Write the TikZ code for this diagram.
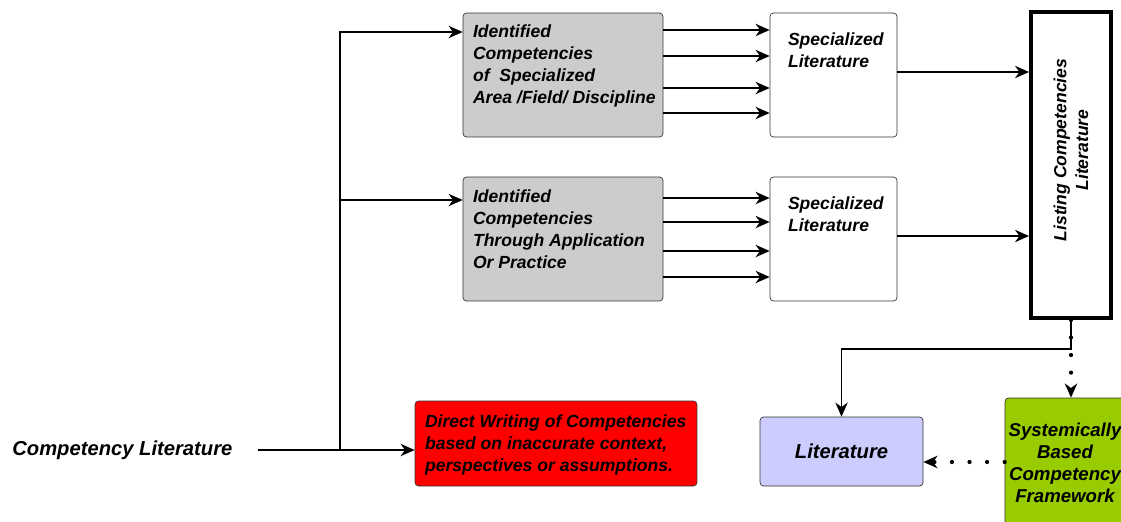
\documentclass[tikz,border=0pt]{standalone}
\usepackage{fontspec}
\setmainfont{Liberation Sans}
\usetikzlibrary{arrows.meta,shapes}
\definecolor{boxgray}{HTML}{CCCCCC}
\definecolor{boxred}{HTML}{FF0000}
\definecolor{boxblue}{HTML}{CCCCFF}
\definecolor{boxgreen}{HTML}{99CC00}
\tikzstyle{graybox}=[rectangle,rounded corners=2pt,draw=black!80,fill=boxgray,minimum width=4cm,minimum height=2.48cm]
\tikzstyle{specbox}=[rectangle,rounded corners=2pt,draw=black!80,fill=white,minimum width=2.54cm,minimum height=2.48cm]
\tikzstyle{listbox}=[rectangle,draw=black,line width=2.2pt,minimum width=1.6cm,minimum height=6.12cm]
\tikzstyle{boxtext}=[align=left,inner sep=0pt,anchor=north west]
\tikzstyle{bigtext}=[font=\fontsize{11.5}{13.5}\selectfont\bfseries\itshape]
\tikzstyle{edge}=[draw,line width=1pt,->]
\tikzstyle{dotedge}=[draw,line width=2.4pt,line cap=round,dash pattern=on 0pt off 10pt,->]

\begin{document}
\begin{tikzpicture}[x=0.02cm,y=-0.02cm,>={Stealth[length=8pt,width=7pt,inset=2.5pt]},
    every node/.style={font=\fontsize{10}{12.4}\selectfont\bfseries\itshape}]

    \useasboundingbox (0,0) rectangle (1121,521);

    % boxes
    \foreach \x/\y/\name in {563/75/id1, 563/239/id2}
        \node[graybox] (\name) at (\x,\y) {};
    \foreach \x/\y/\name in {833.5/75/spec1, 833.5/239/spec2}
        \node[specbox] (\name) at (\x,\y) {};
    \node[listbox] (list) at (1071,165) {};
    \node[rectangle,rounded corners=2pt,draw=black!80,fill=boxred,minimum width=5.64cm,minimum height=1.7cm] (red) at (556,443.5) {};
    \node[rectangle,rounded corners=2pt,draw=black!80,fill=boxblue,minimum width=3.26cm,minimum height=1.38cm,bigtext] (lit) at (841.5,451.5) {Literature};
    \node[rectangle,rounded corners=2pt,draw=black!80,fill=boxgreen,inner xsep=0pt,minimum width=2.4cm,minimum height=2.6cm,align=center,font=\fontsize{10.6}{12.6}\selectfont\bfseries\itshape] (green) at (1065,463) {Systemically\\Based\\Competency\\Framework};

    % texts
    \node[boxtext] (id1txt) at ([xshift=0.2cm,yshift=-0.24cm]id1.north west) {Identified\\Competencies\\of\ \ Specialized\\Area /Field/ Discipline};
    \node[boxtext] (id2txt) at ([xshift=0.2cm,yshift=-0.26cm]id2.north west) {Identified\\Competencies\\Through Application\\Or Practice};
    \foreach \name in {spec1, spec2}
        \node[boxtext] (\name txt) at ([xshift=0.36cm,yshift=-0.4cm]\name.north west) {Specialized\\Literature};
    \node[boxtext] (redtxt) at ([xshift=0.2cm,yshift=-0.28cm]red.north west) {Direct Writing of Competencies\\based on inaccurate context,\\perspectives or assumptions.};
    \node[rotate=90,align=center,inner sep=0pt] (listtxt) at (1071,150) {Listing Competencies\\Literature};
    \node[anchor=west,inner sep=0pt,bigtext] (cl) at (12,450) {Competency Literature};

    % connectors
    \coordinate (split) at (340,450);
    \draw[line width=1pt] ([xshift=0.5cm]cl.east) -- (split);
    \draw[edge] (split) -- (red.west |- split);
    \draw[edge] (split) |- (id1.west |- 0,32);
    \draw[edge] (split) |- (id2.west |- 0,200);

    \foreach \y in {30,56,88,113}
        \draw[edge] (id1.east |- 0,\y) -- (spec1.west |- 0,\y);
    \foreach \y in {198,222,251,277}
        \draw[edge] (id2.east |- 0,\y) -- (spec2.west |- 0,\y);

    \foreach \source in {spec1, spec2}
        \draw[edge] ([yshift=0.06cm]\source.east) -- ([yshift=0.06cm]\source.east -| list.west);

    \draw[dotedge] (list.south) -- (list.south |- green.north);
    \draw[edge] (list.south) -- ++(0,29) -| (lit.north);
    \draw[dotedge] (green.west |- 0,462) -- (lit.east |- 0,462);

\end{tikzpicture}
\end{document}
